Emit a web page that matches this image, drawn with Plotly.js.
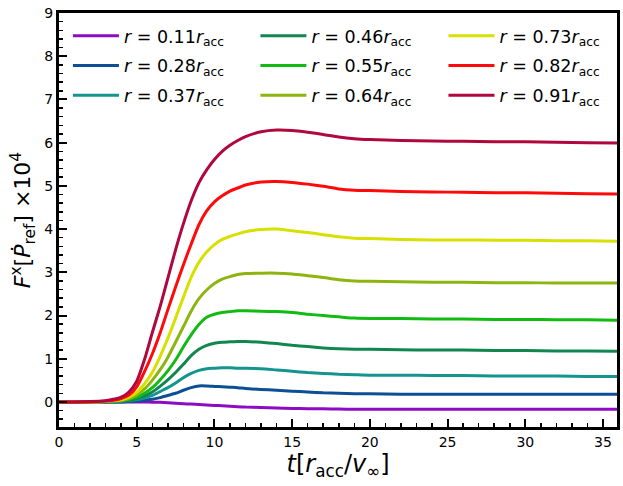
<!DOCTYPE html>
<html>
<head>
<meta charset="utf-8">
<script src="https://cdn.plot.ly/plotly-3.0.1.min.js"></script>
<style>
  body { margin: 0; background: #fff; }
  #chart { width: 623px; height: 486px; }
</style>
</head>
<body>
<div id="chart"></div>
<script>
var tempo = [0, 1, 2, 3, 3.5, 4, 4.5, 5, 5.5, 6, 6.5, 7, 7.5, 8, 8.5, 9, 9.5, 10, 10.5, 11, 11.5, 12,
             13, 14, 15, 16, 17, 18, 19, 20, 22, 24, 26, 28, 30, 32, 34, 35.9];

var raggi = ["0.11", "0.28", "0.37", "0.46", "0.55", "0.64", "0.73", "0.82", "0.91"];
var colori = ["#8e0bc4", "#0d4f94", "#14948f", "#11874f", "#12bb12", "#8db510", "#d8e000", "#ff0a0a", "#b0073e"];

var f011 = [0, 0, 0, 0, 0, 0, 0, 0, 0, -0.005, -0.01, -0.02, -0.03, -0.04, -0.05, -0.06, -0.07, -0.08, -0.09, -0.1, -0.11, -0.12,
            -0.13, -0.14, -0.15, -0.155, -0.16, -0.165, -0.17, -0.17, -0.17, -0.17, -0.17, -0.17, -0.17, -0.17, -0.17, -0.17];
var f028 = [0, 0, 0, 0, 0, 0, 0.01, 0.02, 0.04, 0.06, 0.1, 0.15, 0.2, 0.27, 0.33, 0.37, 0.37, 0.36, 0.35, 0.34, 0.33, 0.31,
            0.29, 0.27, 0.25, 0.23, 0.21, 0.2, 0.19, 0.19, 0.18, 0.18, 0.18, 0.18, 0.18, 0.18, 0.18, 0.18];
var f037 = [0, 0, 0, 0, 0, 0.01, 0.03, 0.05, 0.09, 0.15, 0.24, 0.33, 0.44, 0.56, 0.66, 0.73, 0.77, 0.78, 0.79, 0.79, 0.78, 0.78,
            0.77, 0.74, 0.71, 0.68, 0.66, 0.64, 0.63, 0.62, 0.62, 0.61, 0.61, 0.6, 0.6, 0.6, 0.59, 0.59];
var f046 = [0, 0, 0, 0, 0.01, 0.02, 0.04, 0.08, 0.14, 0.23, 0.36, 0.51, 0.68, 0.87, 1.07, 1.22, 1.31, 1.36, 1.38, 1.39, 1.4, 1.4,
            1.38, 1.35, 1.31, 1.28, 1.25, 1.23, 1.22, 1.22, 1.21, 1.2, 1.2, 1.19, 1.19, 1.18, 1.18, 1.17];
var f055 = [0, 0, 0, 0.01, 0.02, 0.03, 0.06, 0.11, 0.2, 0.33, 0.51, 0.72, 0.97, 1.27, 1.55, 1.79, 1.96, 2.03, 2.07, 2.09, 2.11, 2.11,
            2.1, 2.09, 2.07, 2.03, 2.0, 1.97, 1.94, 1.93, 1.93, 1.92, 1.92, 1.91, 1.91, 1.9, 1.9, 1.89];
var f064 = [0, 0, 0, 0.01, 0.02, 0.04, 0.08, 0.16, 0.3, 0.5, 0.74, 1.03, 1.38, 1.74, 2.1, 2.39, 2.59, 2.74, 2.84, 2.9, 2.95, 2.97,
            2.98, 2.98, 2.96, 2.92, 2.88, 2.83, 2.8, 2.79, 2.78, 2.77, 2.77, 2.76, 2.76, 2.75, 2.75, 2.75];
var f073 = [0, 0, 0, 0.01, 0.03, 0.05, 0.11, 0.22, 0.42, 0.68, 1.05, 1.47, 1.94, 2.42, 2.88, 3.23, 3.47, 3.64, 3.76, 3.83, 3.89, 3.94,
            3.99, 4.0, 3.96, 3.92, 3.87, 3.82, 3.79, 3.78, 3.76, 3.75, 3.75, 3.74, 3.74, 3.73, 3.73, 3.72];
var f082 = [0, 0, 0, 0.02, 0.04, 0.08, 0.16, 0.35, 0.7, 1.11, 1.59, 2.13, 2.66, 3.17, 3.65, 4.1, 4.42, 4.63, 4.77, 4.88, 4.95, 5.02,
            5.09, 5.1, 5.08, 5.04, 4.99, 4.93, 4.9, 4.89, 4.87, 4.86, 4.85, 4.84, 4.84, 4.83, 4.82, 4.81];
var f091 = [0, 0, 0.01, 0.03, 0.06, 0.11, 0.23, 0.48, 0.98, 1.6, 2.2, 2.86, 3.52, 4.12, 4.65, 5.07, 5.37, 5.61, 5.8, 5.94, 6.05, 6.14,
            6.25, 6.29, 6.28, 6.24, 6.19, 6.13, 6.09, 6.07, 6.05, 6.04, 6.03, 6.02, 6.02, 6.01, 6.0, 5.99];

var serie = [f011, f028, f037, f046, f055, f064, f073, f082, f091];
var legende = ["legend", "legend", "legend", "legend2", "legend2", "legend2", "legend3", "legend3", "legend3"];

var font = "DejaVu Sans, sans-serif";

var data = [];
for (var i = 0; i < serie.length; i++) {
    data.push({
        x: tempo,
        y: serie[i],
        type: 'scatter',
        mode: 'lines',
        name: '<i>r</i> = ' + raggi[i] + '<i>r</i><sub>acc</sub>',
        legend: legende[i],
        legendgroup: 'g' + i,
        line: { color: colori[i], width: 3, shape: 'spline', smoothing: 0.6 }
    });
}

function leg(x) {
    return {
        x: x, y: 0.988, xanchor: 'left', yanchor: 'top',
        bgcolor: 'rgba(0,0,0,0)',
        font: { family: font, size: 17.5, color: '#000' },
        itemwidth: 46,
        tracegroupgap: 4
    };
}

var asse = {
    showgrid: false,
    zeroline: false,
    showline: true,
    linewidth: 3,
    linecolor: '#000',
    mirror: true,
    ticks: 'inside',
    ticklen: 8,
    tickwidth: 2,
    tickcolor: '#000',
    tickfont: { family: font, size: 14, color: '#000' }
};

var layout = {
    width: 623,
    height: 486,
    margin: { l: 59, r: 6, t: 13, b: 59 },
    paper_bgcolor: '#fff',
    plot_bgcolor: '#fff',
    showlegend: true,
    legend: leg(0.016),
    legend2: leg(0.352),
    legend3: leg(0.689),
    xaxis: Object.assign({}, asse, {
        range: [0, 35.9],
        dtick: 5,
        minor: { dtick: 1, ticks: 'inside', ticklen: 4, tickwidth: 1.5, tickcolor: '#000', showgrid: false },
        title: { text: '<i>t</i>[<i>r</i><sub>acc</sub>/<i>v</i><sub>∞</sub>]', font: { family: font, size: 24, color: '#000' }, standoff: 6 }
    }),
    yaxis: Object.assign({}, asse, {
        range: [-0.58, 9],
        dtick: 1,
        minor: { dtick: 0.2, ticks: 'inside', ticklen: 4, tickwidth: 1.5, tickcolor: '#000', showgrid: false },
        title: { text: '<i>F</i><sup>x</sup>[<i>P\u0307</i><sub>ref</sub>] \u00d710<sup>4</sup>', font: { family: font, size: 22, color: '#000' }, standoff: 8 }
    })
};

Plotly.newPlot('chart', data, layout, { displayModeBar: false, staticPlot: true });
</script>
</body>
</html>
